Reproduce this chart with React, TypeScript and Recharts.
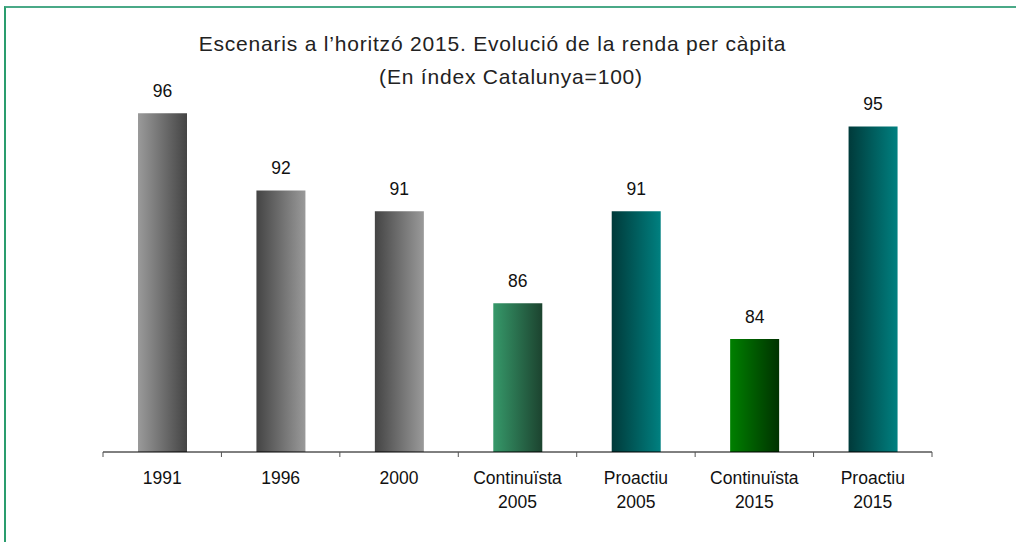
import React from 'react';
import { BarChart, Bar, XAxis, YAxis, Cell, LabelList } from 'recharts';

const categories = ['1991', '1996', '2000', 'Continuïsta 2005', 'Proactiu 2005', 'Continuïsta 2015', 'Proactiu 2015'];
const categoryLines = [['1991'], ['1996'], ['2000'], ['Continuïsta', '2005'], ['Proactiu', '2005'], ['Continuïsta', '2015'], ['Proactiu', '2015']];
const values = [96.0, 91.9, 90.8, 85.9, 90.8, 84.0, 95.3];
const titleLine1 = "Escenaris a l\u2019horitzó 2015. Evolució de la renda per càpita";
const titleLine2 = '(En índex Catalunya=100)';

// gradient stops: [left colour, right colour]
const gradientColors: [string, string][] = [
  ['#9a9a9a', '#444444'],
  ['#444444', '#9a9a9a'],
  ['#444444', '#9a9a9a'],
  ['#36996a', '#1c432f'],
  ['#003a3a', '#008080'],
  ['#008000', '#003200'],
  ['#003a3a', '#008080'],
];

const data = categories.map((c, i) => ({ name: c, value: values[i], idx: i }));

const W = 1016;
const H = 542;
const M = { top: 38, right: 84, left: 103, bottom: 0 };
const plotW = W - M.left - M.right;
const step = plotW / categories.length;
const FONT = '"Liberation Sans", Arial, sans-serif';

const Tick = (props: any) => {
  const { x, y, payload, index } = props;
  const i = payload && typeof payload.index === 'number' ? payload.index : index;
  const lines = categoryLines[i] || [String(payload.value)];
  const left = x - step / 2;
  const right = x + step / 2;
  return (
    <g>
      <line x1={left} x2={left} y1={y} y2={y + 5} stroke="#555" strokeWidth={1} />
      {i === categories.length - 1 && (
        <line x1={right} x2={right} y1={y} y2={y + 5} stroke="#555" strokeWidth={1} />
      )}
      {lines.map((l, k) => (
        <text key={k} x={x} y={y + 32 + k * 24} textAnchor="middle" fontSize={17.5} fontFamily={FONT} fill="#111">
          {l}
        </text>
      ))}
    </g>
  );
};

export default function App() {
  return (
    <div style={{ position: 'absolute', left: 0, top: 0, width: W, height: H, overflow: 'hidden', background: '#fff' }}>
      <div style={{ position: 'absolute', left: 4, top: 6, width: W + 50, height: H + 50, borderTop: '2px solid #4aa987', borderLeft: '2px solid #2a9d6e', boxSizing: 'border-box' }} />
      <svg width={0} height={0} style={{ position: 'absolute' }}>
        <defs>
          {gradientColors.map((g, i) => (
            <linearGradient key={i} id={`grad${i}`} x1="0" y1="0" x2="1" y2="0">
              <stop offset="0%" stopColor={g[0]} />
              <stop offset="100%" stopColor={g[1]} />
            </linearGradient>
          ))}
        </defs>
      </svg>
      <div style={{ position: 'absolute', left: 0, top: 32, width: 985, textAlign: 'center', fontFamily: FONT, fontSize: 21, color: '#222', whiteSpace: 'nowrap', letterSpacing: 0.8 }}>
        {titleLine1}
      </div>
      <div style={{ position: 'absolute', left: 0, top: 65, width: 1022, textAlign: 'center', fontFamily: FONT, fontSize: 21, color: '#222', whiteSpace: 'nowrap', letterSpacing: 0.8 }}>
        {titleLine2}
      </div>
      <div style={{ position: 'absolute', left: 0, top: 0 }}>
        <BarChart width={W} height={H} data={data} margin={M}>
          <YAxis hide domain={[78, 100]} allowDataOverflow />
          <XAxis
            dataKey="name"
            height={90}
            interval={0}
            tickLine={false}
            tickSize={0}
            tickMargin={0}
            axisLine={{ stroke: '#000', strokeWidth: 1 }}
            tick={<Tick />}
          />
          <Bar dataKey="value" barSize={49} isAnimationActive={false}>
            {data.map((d, i) => (
              <Cell key={i} fill={`url(#grad${i})`} />
            ))}
            <LabelList
              dataKey="value"
              position="top"
              offset={16}
              formatter={(v: any) => Math.round(Number(v))}
              style={{ fontSize: 17.5, fontFamily: FONT, fill: '#111' }}
            />
          </Bar>
        </BarChart>
      </div>
    </div>
  );
}
